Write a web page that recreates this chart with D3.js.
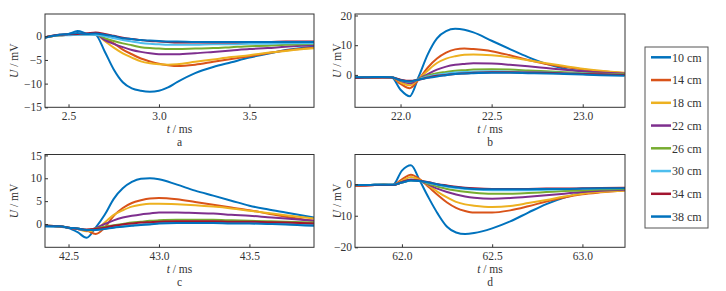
<!DOCTYPE html>
<html>
<head>
<meta charset="utf-8">
<script src="https://cdn.jsdelivr.net/npm/d3@7"></script>
<style>
  body { margin: 0; background: #fff; }
  svg { display: block; }
  svg text { font-family: "Liberation Serif", "Tinos", "Times New Roman", "DejaVu Serif", serif; fill: #333; }
</style>
</head>
<body>
<svg id="chart" width="726" height="291"></svg>
<script>
// distances (legend order) and colours
const distances = ["10 cm", "14 cm", "18 cm", "22 cm", "26 cm", "30 cm", "34 cm", "38 cm"];
const colors = ["#0072BD", "#D95319", "#EDB120", "#7E2F8E", "#77AC30", "#4DBEEE", "#A2142F", "#0072BD"];

// panel a
const tA = [2.37, 2.45, 2.5, 2.55, 2.6, 2.65, 2.7, 2.75, 2.8, 2.85, 2.9, 2.95, 3.0, 3.05, 3.1, 3.2, 3.3, 3.4, 3.5, 3.6, 3.7, 3.8, 3.86];
const uA = [
    [-0.3, 0.3, 0.5, 1.1, 0.6, 0.3, -3.2, -7.0, -9.7, -11.0, -11.5, -11.7, -11.5, -10.8, -9.7, -7.8, -6.5, -5.5, -4.5, -3.7, -2.9, -2.4, -2.2],
    [-0.2, 0.2, 0.3, 0.5, 0.5, 0.6, -0.5, -1.5, -2.8, -3.8, -4.7, -5.3, -5.8, -6.1, -6.3, -6.0, -5.4, -4.8, -4.2, -3.6, -3.0, -2.6, -2.4],
    [-0.2, 0.2, 0.3, 0.4, 0.4, 0.4, -1.0, -2.4, -3.6, -4.5, -5.3, -5.7, -5.9, -6.0, -5.9, -5.4, -4.9, -4.4, -4.0, -3.5, -3.1, -2.7, -2.5],
    [-0.2, 0.2, 0.3, 0.4, 0.4, 0.4, -0.8, -1.6, -2.3, -2.9, -3.3, -3.6, -3.8, -3.8, -3.8, -3.6, -3.3, -3.0, -2.7, -2.5, -2.2, -2.0, -1.9],
    [-0.2, 0.2, 0.3, 0.4, 0.4, 0.4, -0.4, -1.0, -1.5, -1.9, -2.3, -2.5, -2.6, -2.7, -2.7, -2.6, -2.5, -2.3, -2.1, -2.0, -1.8, -1.7, -1.6],
    [-0.2, 0.2, 0.2, 0.3, 0.3, 0.3, 0.0, -0.4, -0.8, -1.1, -1.4, -1.6, -1.7, -1.8, -1.8, -1.8, -1.7, -1.7, -1.6, -1.6, -1.5, -1.5, -1.5],
    [-0.2, 0.3, 0.4, 0.5, 0.6, 0.8, 0.5, 0.1, -0.3, -0.6, -0.8, -1.0, -1.1, -1.2, -1.3, -1.3, -1.3, -1.3, -1.2, -1.2, -1.1, -1.1, -1.1],
    [-0.3, 0.3, 0.5, 0.7, 0.5, 0.6, 0.3, 0.0, -0.4, -0.6, -0.8, -0.9, -1.0, -1.1, -1.1, -1.2, -1.2, -1.2, -1.2, -1.2, -1.2, -1.2, -1.2]
];

// panel b
const tB = [21.75, 21.8, 21.85, 21.9, 21.95, 22.0, 22.05, 22.1, 22.15, 22.2, 22.25, 22.3, 22.35, 22.4, 22.5, 22.6, 22.7, 22.8, 22.9, 23.0, 23.1, 23.23];
const uB = [
    [-0.9, -0.8, -0.8, -0.7, -0.8, -5.0, -7.2, -0.5, 7.0, 12.3, 14.7, 15.5, 15.2, 14.3, 11.5, 8.7, 6.0, 3.7, 2.1, 1.2, 0.7, 0.3],
    [-0.9, -0.9, -0.9, -0.8, -0.8, -3.0, -4.5, -1.5, 2.5, 5.5, 7.5, 8.6, 8.9, 8.7, 8.0, 6.6, 5.0, 3.7, 2.7, 1.8, 1.2, 0.6],
    [-0.9, -0.8, -0.8, -0.8, -0.8, -2.5, -3.5, -1.3, 1.5, 4.0, 5.5, 6.3, 6.8, 6.9, 6.6, 5.9, 4.9, 3.9, 3.0, 2.1, 1.4, 0.7],
    [-0.9, -0.8, -0.8, -0.8, -0.8, -2.0, -2.8, -1.3, 0.3, 1.8, 2.8, 3.4, 3.7, 3.9, 3.8, 3.4, 2.9, 2.3, 1.7, 1.2, 0.8, 0.5],
    [-0.9, -0.8, -0.8, -0.8, -0.8, -1.8, -2.3, -1.4, -0.2, 0.6, 1.0, 1.4, 1.6, 1.8, 1.9, 1.8, 1.5, 1.2, 0.9, 0.6, 0.4, 0.2],
    [-0.9, -0.8, -0.8, -0.8, -0.8, -1.7, -2.2, -1.5, -0.5, 0.1, 0.5, 0.8, 1.0, 1.1, 1.2, 1.1, 1.0, 0.8, 0.6, 0.4, 0.2, 0.0],
    [-1.0, -0.9, -0.9, -0.9, -0.9, -1.6, -2.0, -1.6, -0.9, -0.3, 0.0, 0.3, 0.5, 0.7, 0.9, 0.9, 0.8, 0.7, 0.5, 0.3, 0.2, 0.0],
    [-0.8, -0.8, -0.7, -0.7, -0.8, -1.8, -2.2, -1.6, -1.0, -0.5, -0.1, 0.3, 0.5, 0.6, 0.7, 0.7, 0.6, 0.5, 0.3, 0.1, -0.1, -0.3]
];

// panel c
const tC = [42.37, 42.45, 42.5, 42.55, 42.6, 42.65, 42.7, 42.75, 42.8, 42.85, 42.9, 42.95, 43.0, 43.1, 43.2, 43.3, 43.4, 43.5, 43.6, 43.7, 43.857];
const uC = [
    [-0.5, -0.6, -0.9, -1.8, -3.0, -0.8, 2.0, 5.5, 7.8, 9.2, 9.9, 10.0, 9.8, 8.6, 7.3, 6.2, 5.1, 4.0, 3.2, 2.5, 1.4],
    [-0.4, -0.5, -0.8, -1.1, -1.4, -2.2, -0.8, 1.8, 3.5, 4.6, 5.2, 5.6, 5.7, 5.4, 4.8, 4.2, 3.6, 3.0, 2.3, 1.6, 0.7],
    [-0.4, -0.5, -0.8, -1.1, -1.6, -1.2, 0.3, 2.0, 3.0, 3.8, 4.2, 4.4, 4.4, 4.3, 4.1, 3.8, 3.4, 2.9, 2.4, 1.9, 1.2],
    [-0.4, -0.5, -0.8, -1.1, -1.4, -0.9, 0.0, 0.8, 1.4, 1.8, 2.1, 2.3, 2.5, 2.5, 2.4, 2.3, 2.0, 1.8, 1.5, 1.2, 0.7],
    [-0.4, -0.5, -0.8, -1.0, -1.3, -1.0, -0.6, -0.3, 0.0, 0.3, 0.5, 0.7, 0.8, 0.9, 0.9, 0.9, 0.8, 0.7, 0.6, 0.5, 0.3],
    [-0.4, -0.5, -0.8, -1.0, -1.3, -1.3, -1.0, -0.7, -0.5, -0.3, -0.1, 0.1, 0.2, 0.3, 0.3, 0.3, 0.2, 0.2, 0.1, 0.0, -0.2],
    [-0.4, -0.5, -0.8, -1.0, -1.2, -1.1, -0.8, -0.4, -0.1, 0.1, 0.3, 0.4, 0.5, 0.6, 0.6, 0.6, 0.5, 0.5, 0.4, 0.3, 0.1],
    [-0.5, -0.5, -0.8, -1.0, -1.3, -1.3, -1.1, -0.8, -0.6, -0.4, -0.2, -0.1, 0.1, 0.2, 0.2, 0.2, 0.1, 0.1, 0.0, -0.1, -0.4]
];

// panel d
const tD = [61.74, 61.8, 61.85, 61.9, 61.95, 62.0, 62.05, 62.1, 62.15, 62.2, 62.25, 62.3, 62.35, 62.4, 62.5, 62.6, 62.7, 62.8, 62.9, 63.0, 63.1, 63.236];
const uD = [
    [-0.3, -0.3, -0.2, -0.1, -0.2, 4.3, 6.0, 1.0, -4.5, -9.5, -13.5, -15.3, -15.8, -15.5, -14.0, -11.8, -9.0, -6.3, -4.2, -2.8, -2.0, -1.6],
    [-0.5, -0.4, -0.3, -0.2, -0.3, 1.5, 3.0, 1.5, -1.0, -3.5, -5.8, -7.5, -8.5, -9.0, -9.0, -8.3, -7.0, -5.5, -4.2, -3.2, -2.6, -2.0],
    [-0.4, -0.3, -0.3, -0.2, -0.3, 1.0, 2.3, 1.3, -0.5, -2.5, -4.2, -5.6, -6.4, -6.8, -7.2, -6.9, -6.0, -5.0, -3.9, -3.0, -2.5, -2.0],
    [-0.3, -0.3, -0.2, -0.2, -0.2, 0.7, 1.5, 1.0, -0.2, -1.5, -2.5, -3.3, -3.9, -4.3, -4.6, -4.4, -4.0, -3.5, -3.0, -2.5, -2.1, -1.8],
    [-0.3, -0.3, -0.2, -0.2, -0.2, 0.5, 1.2, 1.0, 0.0, -0.8, -1.5, -2.0, -2.4, -2.7, -3.0, -3.0, -2.8, -2.5, -2.2, -2.0, -1.7, -1.5],
    [-0.3, -0.3, -0.2, -0.2, -0.2, 0.5, 1.2, 1.0, 0.4, -0.3, -0.8, -1.2, -1.5, -1.7, -1.9, -1.9, -1.9, -1.8, -1.6, -1.5, -1.3, -1.2],
    [-0.4, -0.4, -0.3, -0.3, -0.3, 0.6, 1.3, 1.1, 0.6, 0.0, -0.4, -0.8, -1.1, -1.3, -1.5, -1.5, -1.5, -1.4, -1.4, -1.3, -1.2, -1.1],
    [-0.3, -0.3, -0.2, -0.2, -0.2, 0.5, 1.2, 1.0, 0.5, -0.1, -0.6, -1.0, -1.3, -1.5, -1.6, -1.6, -1.6, -1.5, -1.5, -1.4, -1.3, -1.3]
];

// axis ticks
const xTicksA = [2.5, 3.0, 3.5], yTicksA = [-15, -10, -5, 0];
const xTicksB = [22.0, 22.5, 23.0], yTicksB = [0, 10, 20];
const xTicksC = [42.5, 43.0, 43.5], yTicksC = [0, 5, 10, 15];
const xTicksD = [62.0, 62.5, 63.0], yTicksD = [-20, -10, 0];

const svg = d3.select("#chart");
const fs = 11.5;

const panels = [
    {id: "a", t: tA, u: uA, xd: [2.37, 3.857], yd: [-15, 4.7], xt: xTicksA, yt: yTicksA, box: [45, 14, 314, 107.3], ylab: 31},
    {id: "b", t: tB, u: uB, xd: [21.75, 23.232], yd: [-10.9, 20.5], xt: xTicksB, yt: yTicksB, box: [355, 14, 625, 107.3], ylab: 18},
    {id: "c", t: tC, u: uC, xd: [42.37, 43.857], yd: [-5.1, 15.2], xt: xTicksC, yt: yTicksC, box: [45, 154.5, 314, 247.3], ylab: 31},
    {id: "d", t: tD, u: uD, xd: [61.74, 63.236], yd: [-20, 9.4], xt: xTicksD, yt: yTicksD, box: [355, 154.5, 625, 247.3], ylab: 18}
];

panels.forEach(function (p) {
    const [x0, y0, x1, y1] = p.box;
    const x = d3.scaleLinear().domain(p.xd).range([x0, x1]);
    const y = d3.scaleLinear().domain(p.yd).range([y1, y0]);
    const g = svg.append("g").attr("class", "panel-" + p.id);

    const clipId = "clip-" + p.id;
    g.append("clipPath").attr("id", clipId)
        .append("rect").attr("x", x0).attr("y", y0).attr("width", x1 - x0).attr("height", y1 - y0);

    const line = d3.line()
        .x((d, i) => x(p.t[i]))
        .y(d => y(d))
        .curve(d3.curveMonotoneX);

    g.append("g").attr("clip-path", `url(#${clipId})`)
        .selectAll("path")
        .data(p.u)
        .enter().append("path")
        .attr("d", line)
        .attr("fill", "none")
        .attr("stroke", (d, i) => colors[i])
        .attr("stroke-width", 2)
        .attr("stroke-linejoin", "round");

    // axes, ticks inside
    const xAxis = d3.axisBottom(x).tickValues(p.xt).tickFormat(d3.format(".1f")).tickSize(-3);
    const yAxis = d3.axisLeft(y).tickValues(p.yt).tickFormat(d3.format("d")).tickSize(-3).tickPadding(3);

    const gx = g.append("g").attr("transform", `translate(0,${y1})`).call(xAxis);
    const gy = g.append("g").attr("transform", `translate(${x0},0)`).call(yAxis);
    [gx, gy].forEach(a => {
        a.attr("font-family", null).attr("font-size", null);
        a.select(".domain").remove();
        a.selectAll("line").attr("stroke", "#333");
        a.selectAll("text").attr("font-size", fs).attr("fill", "#333");
    });
    gx.selectAll("text").attr("y", 12.3).attr("dy", null);

    g.append("rect")
        .attr("x", x0).attr("y", y0)
        .attr("width", x1 - x0).attr("height", y1 - y0)
        .attr("fill", "none").attr("stroke", "#333").attr("stroke-width", 1);

    // axis titles
    const cx = (x0 + x1) / 2;
    const xt = g.append("text").attr("x", cx).attr("y", y1 + 25.6)
        .attr("text-anchor", "middle").attr("font-size", fs);
    xt.append("tspan").attr("font-style", "italic").text("t");
    xt.append("tspan").text(" / ms");

    g.append("text").attr("x", cx).attr("y", y1 + 38.6)
        .attr("text-anchor", "middle").attr("font-size", fs).text(p.id);

    const yt = g.append("text")
        .attr("transform", `translate(${x0 - p.ylab},${(y0 + y1) / 2}) rotate(-90)`)
        .attr("text-anchor", "middle").attr("dy", "0.35em").attr("font-size", fs);
    yt.append("tspan").attr("font-style", "italic").text("U");
    yt.append("tspan").text(" / mV");
});

// legend
const legend = svg.append("g").attr("class", "legend");
legend.append("rect")
    .attr("x", 645).attr("y", 47).attr("width", 63).attr("height", 181)
    .attr("fill", "#fff").attr("stroke", "#555").attr("stroke-width", 1);

const item = legend.selectAll(".item")
    .data(distances)
    .enter().append("g")
    .attr("class", "item")
    .attr("transform", (d, i) => `translate(0,${57.3 + i * 22.75})`);

item.append("line")
    .attr("x1", 651).attr("x2", 671)
    .attr("stroke", (d, i) => colors[i])
    .attr("stroke-width", 2.5);

item.append("text")
    .attr("x", 672).attr("dy", "0.35em")
    .attr("font-size", 12)
    .text(d => d);
</script>
</body>
</html>
